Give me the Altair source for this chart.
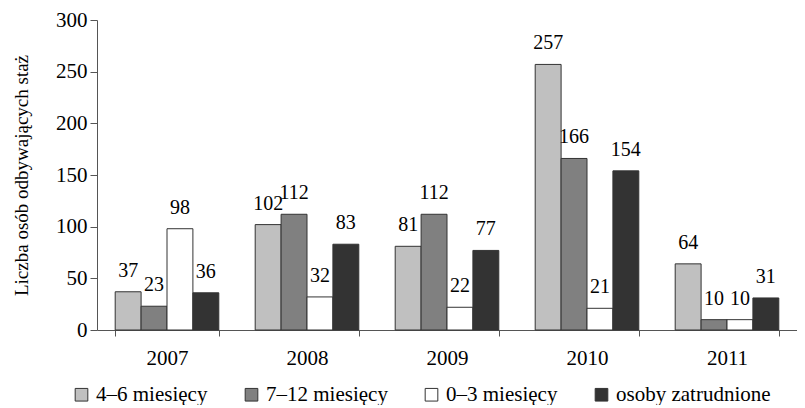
import altair as alt
import pandas as pd

years = ["2007", "2008", "2009", "2010", "2011"]
series = ["4–6 miesięcy", "7–12 miesięcy", "0–3 miesięcy", "osoby zatrudnione"]
colors = ["#c0c0c0", "#808080", "#ffffff", "#333333"]
v_4_6 = [37, 102, 81, 257, 64]
v_7_12 = [23, 112, 112, 166, 10]
v_0_3 = [98, 32, 22, 21, 10]
v_zatr = [36, 83, 77, 154, 31]

rows = []
for vals, s in zip([v_4_6, v_7_12, v_0_3, v_zatr], series):
    for y, v in zip(years, vals):
        rows.append({"rok": y, "seria": s, "wartosc": v})
df = pd.DataFrame(rows)

FONT = "Liberation Serif"

x = alt.X("rok:N", sort=years, title=None,
          scale=alt.Scale(paddingInner=0.26, paddingOuter=0.13),
          axis=alt.Axis(labelAngle=0, tickBand="extent", tickSize=6,
                        labelPadding=11, labelFontSize=21, labelFont=FONT,
                        labelColor="#000", domainColor="#555", tickColor="#555"))
xo = alt.XOffset("seria:N", sort=series, scale=alt.Scale(paddingInner=0, paddingOuter=0))
y = alt.Y("wartosc:Q", title="Liczba osób odbywających staż",
          scale=alt.Scale(domain=[0, 300], nice=False),
          axis=alt.Axis(values=[0, 50, 100, 150, 200, 250, 300], grid=False,
                        tickSize=7, labelPadding=3, labelFontSize=21, labelFont=FONT,
                        labelColor="#000", titleFont=FONT, titleFontSize=19,
                        titleFontWeight="normal", titleColor="#000", titlePadding=24,
                        domainColor="#555", tickColor="#555"))

bars = alt.Chart(df).mark_bar(stroke="#333", strokeWidth=1).encode(
    x=x, xOffset=xo, y=y,
    fill=alt.Fill("seria:N", sort=series,
                  scale=alt.Scale(domain=series, range=colors),
                  legend=alt.Legend(title=None, orient="none", legendX=-26, legendY=364,
                                    direction="horizontal", columns=4,
                                    symbolType="square", symbolSize=160,
                                    symbolStrokeColor="#333", symbolStrokeWidth=1,
                                    labelFont=FONT, labelFontSize=21, labelColor="#000",
                                    labelOffset=4, columnPadding=33))
)

labels = alt.Chart(df).mark_text(font=FONT, fontSize=20, baseline="alphabetic",
                                 dy=-15, color="#000").encode(
    x=x, xOffset=xo, y=y, text="wartosc:Q"
)

chart = (bars + labels).properties(
    width=700, height=310,
    padding={"left": 4, "top": 1, "right": 0, "bottom": 0}
).configure_view(stroke=None).configure_axis(
    labelFont=FONT, titleFont=FONT
).configure_legend(labelFont=FONT).configure_text(font=FONT)

chart.save("out.html", embed_options={"renderer": "svg", "actions": False})
